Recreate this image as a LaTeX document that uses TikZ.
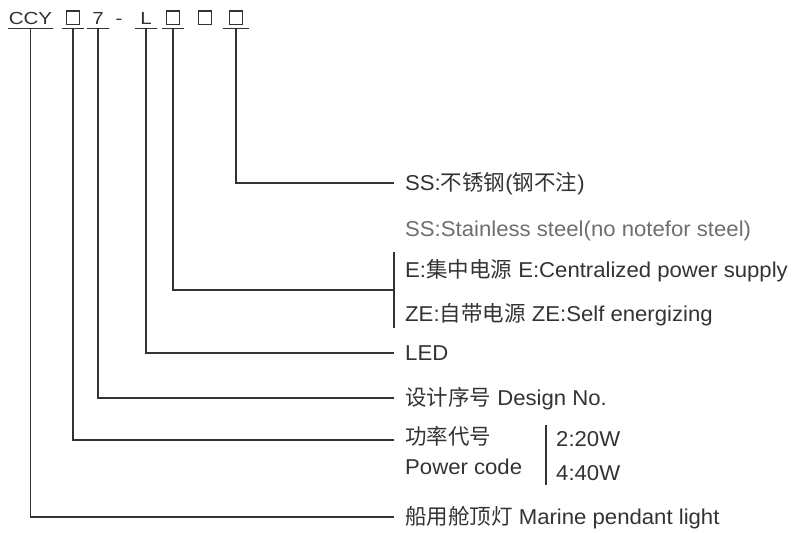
\documentclass[tikz,border=0pt]{standalone}
\usepackage{fontspec}
\setmainfont{Liberation Sans}[FakeStretch=1.03]
\newfontfamily\cjk{Noto Sans CJK SC}
\usetikzlibrary{calc}
\definecolor{ink}{HTML}{333333}
\definecolor{soft}{HTML}{6E6E6E}
\newcommand\sx[1]{\scalebox{1.14}[1]{#1}}
\begin{document}
\begin{tikzpicture}[x=1pt,y=-1pt,
  top/.style={inner sep=0pt, anchor=base, text=ink, font=\fontsize{17.5}{20}\selectfont},
  boxn/.style={draw=ink, line width=1.3pt, inner sep=0pt, minimum size=13.5pt, anchor=south},
  lbl/.style={inner sep=0pt, anchor=base west, text=ink, font=\fontsize{21.5}{25}\selectfont},
  wire/.style={draw=ink, line width=1.1pt}]
\useasboundingbox (0,0) rectangle (793,533);
\coordinate (ul) at (0,28.5);
% top row code
\node[top] (ccy) at (30.5,24.5) {\sx{CCY}};
\node[boxn] (b1) at (73,25) {};
\node[top] (sev) at (98,24.5) {\sx{7}};
\node[top] (dash) at (119,24.5) {\sx{-}};
\node[top] (ell) at (146,24.5) {\sx{L}};
\node[boxn] (b2) at (173,25) {};
\node[boxn] (b3) at (205,25) {};
\node[boxn] (b4) at (236,25) {};
% underlines
\foreach \n/\e in {ccy/1,b1/4,sev/5,ell/5,b2/4,b4/6}{
  \draw[wire] ($(\n.west |- ul)+(-\e,0)$) -- ($(\n.east |- ul)+(\e,0)$);
}
% line ends
\coordinate (eSS) at (394,183);
\coordinate (eE) at (394,290);
\coordinate (eLED) at (394,353);
\coordinate (eDes) at (394,398);
\coordinate (ePow) at (394,440);
\coordinate (eMar) at (394,517);
\coordinate (barT) at (394,252);
\coordinate (barB) at (394,328);
% labels
\node[lbl] (ss) at (405,190.5) {SS:{\cjk 不锈钢}({\cjk 钢不注})};
\node[lbl, text=soft] (ssen) at (405,236.5) {SS:Stainless steel(no notefor steel)};
\node[lbl] (e) at (405,277.5) {E:{\cjk 集中电源} E:Centralized power supply};
\node[lbl] (ze) at (405,321.5) {ZE:{\cjk 自带电源} ZE:Self energizing};
\node[lbl] (led) at (405,360.5) {LED};
\node[lbl] (des) at (405,405.5) {{\cjk 设计序号} Design No.};
\node[lbl] (powc) at (405,444.5) {{\cjk 功率代号}};
\node[lbl] (powe) at (405,474.5) {Power code};
\node[lbl] (w20) at (556,446.5) {2:20W};
\node[lbl] (w40) at (556,480) {4:40W};
\node[lbl] (mar) at (405,524.5) {{\cjk 船用舱顶灯} Marine pendant light};
\coordinate (pbT) at (546,425);
\coordinate (pbB) at (546,485);
% connectors
\draw[wire] (b4 |- ul) |- (eSS);
\draw[wire] (b2 |- ul) |- (eE);
\draw[wire] (barT) -- (barB);
\draw[wire] (ell |- ul) |- (eLED);
\draw[wire] (sev |- ul) |- (eDes);
\draw[wire] (b1 |- ul) |- (ePow);
\draw[wire] (ccy |- ul) |- (eMar);
\draw[wire] (pbT) -- (pbB);
\end{tikzpicture}
\end{document}
